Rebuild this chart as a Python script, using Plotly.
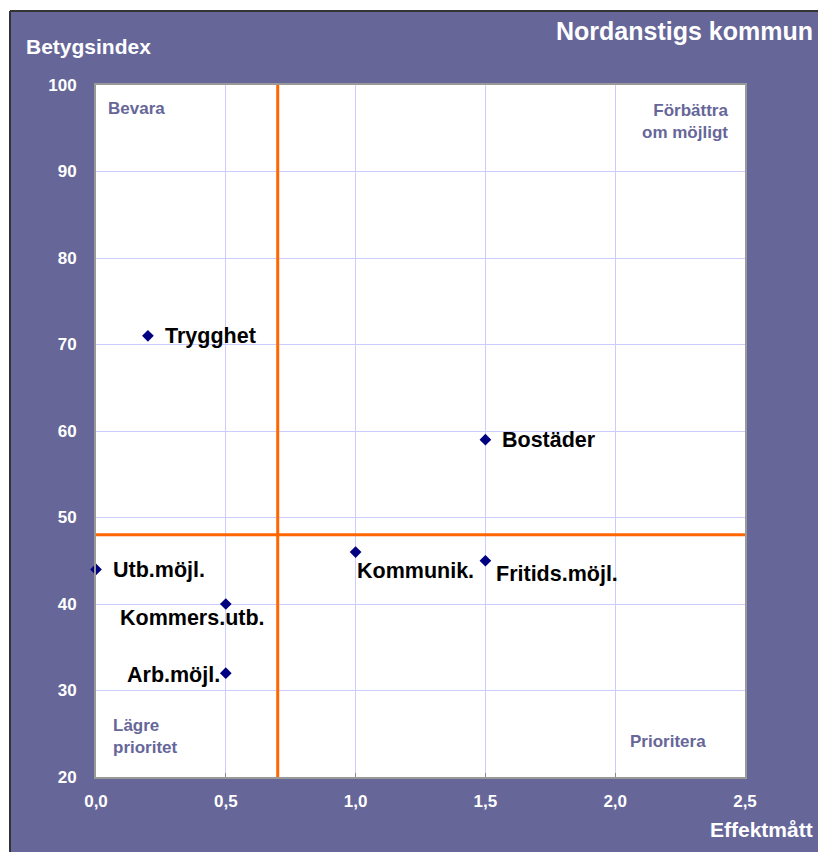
import plotly.graph_objects as go

# ---- data ----
labels = ["Trygghet", "Bostäder", "Utb.möjl.", "Kommers.utb.", "Arb.möjl.", "Kommunik.", "Fritids.möjl."]
effekt = [0.2, 1.5, 0.0, 0.5, 0.5, 1.0, 1.5]
betyg = [71, 59, 44, 40, 32, 46, 45]
x_threshold = 0.7
y_threshold = 48
x_ticks = [0.0, 0.5, 1.0, 1.5, 2.0, 2.5]
y_ticks = [20, 30, 40, 50, 60, 70, 80, 90, 100]

# ---- style ----
PURPLE = "#666699"
FONT = "Liberation Sans, Arial, sans-serif"
# label placement per point: (xanchor, yanchor, xshift, yshift)
label_style = {
    "Trygghet": ("left", "middle", 15, 0),
    "Bostäder": ("left", "middle", 15, 0),
    "Utb.möjl.": ("left", "middle", 15, -1),
    "Kommers.utb.": ("center", "middle", -33, -14),
    "Arb.möjl.": ("right", "middle", -4, -2),
    "Kommunik.": ("left", "middle", -1, -19),
    "Fritids.möjl.": ("left", "middle", 9, -13),
}

SW, SH = 818, 852
W, H = SW, SH
L, R, T, B = 96, 745, 85, 777
pw, ph = R - L, B - T


def px(xs):
    return (xs - L) / pw


def py(ys):
    return (B - ys) / ph


fig = go.Figure()
fig.add_trace(go.Scatter(
    x=effekt, y=betyg, mode="markers",
    marker=dict(symbol="diamond", size=9, color="#000080"),
    hoverinfo="skip", showlegend=False, cliponaxis=False,
))

annotations = []
for lab, xv, yv in zip(labels, effekt, betyg):
    xa, ya, xs, ys = label_style[lab]
    annotations.append(dict(
        x=xv, y=yv, xref="x", yref="y", text=lab, showarrow=False,
        xanchor=xa, yanchor=ya, xshift=xs, yshift=ys,
        font=dict(family=FONT, size=21.5, color="black", weight="bold"),
    ))


def q(text, x, y, xa, ya, align="left"):
    annotations.append(dict(
        x=x, y=y, xref="paper", yref="paper", text=text, showarrow=False,
        xanchor=xa, yanchor=ya, align=align,
        font=dict(family=FONT, size=17, color=PURPLE, weight="bold"),
    ))


q("Bevara", px(106), py(109), "left", "middle")
q("Förbättra<br>om möjligt", px(730), py(121), "right", "middle", "right")
q("Lägre<br>prioritet", px(111), py(736), "left", "middle")
q("Prioritera", px(628), py(741), "left", "middle")

annotations.append(dict(
    x=px(24), y=py(46), xref="paper", yref="paper", text="Betygsindex",
    showarrow=False, xanchor="left", yanchor="middle",
    font=dict(family=FONT, size=21, color="white", weight="bold")))
annotations.append(dict(
    x=px(815), y=py(31), xref="paper", yref="paper", text="Nordanstigs kommun",
    showarrow=False, xanchor="right", yanchor="middle",
    font=dict(family=FONT, size=25, color="white", weight="bold")))
annotations.append(dict(
    x=px(815), y=py(829), xref="paper", yref="paper", text="Effektmått",
    showarrow=False, xanchor="right", yanchor="middle",
    font=dict(family=FONT, size=21, color="white", weight="bold")))

shapes = [
    # white strips on top and left of the purple frame
    dict(type="rect", xref="paper", yref="paper", x0=px(0), x1=px(SW + 5), y0=py(11), y1=py(0),
         fillcolor="white", line=dict(width=0), layer="below"),
    dict(type="rect", xref="paper", yref="paper", x0=px(0), x1=px(10), y0=py(SH + 5), y1=py(0),
         fillcolor="white", line=dict(width=0), layer="below"),
    dict(type="line", xref="paper", yref="paper", x0=px(10), x1=px(SW + 5), y0=py(11), y1=py(11),
         line=dict(color="#333333", width=2), layer="below"),
    dict(type="line", xref="paper", yref="paper", x0=px(10), x1=px(10), y0=py(11), y1=py(SH + 5),
         line=dict(color="#333333", width=2), layer="below"),
    # threshold lines
    dict(type="line", xref="x", yref="paper", x0=x_threshold, x1=x_threshold, y0=0, y1=1,
         line=dict(color="#FF6600", width=3)),
    dict(type="line", xref="paper", yref="y", x0=0, x1=1, y0=y_threshold, y1=y_threshold,
         line=dict(color="#FF6600", width=3)),
]

fig.update_layout(
    width=W, height=H,
    margin=dict(l=L, r=W - R, t=T, b=H - B, pad=0),
    paper_bgcolor=PURPLE, plot_bgcolor="white",
    separators=", ",
    font=dict(family=FONT),
    annotations=annotations, shapes=shapes,
    showlegend=False,
)
fig.update_xaxes(
    range=[0, 2.5], tickvals=x_ticks, tickformat=".1f",
    showgrid=True, gridcolor="#CCCCFF", gridwidth=1, zeroline=False,
    showline=True, linecolor="#999999", linewidth=2, mirror=True,
    ticks="inside", ticklen=4, tickcolor="#888888",
    tickfont=dict(family=FONT, size=17, color="white", weight="bold"),
    ticklabelstandoff=8,
)
fig.update_yaxes(
    range=[20, 100], tickvals=y_ticks,
    showgrid=True, gridcolor="#CCCCFF", gridwidth=1, zeroline=False,
    showline=True, linecolor="#999999", linewidth=2, mirror=True,
    ticks="", tickfont=dict(family=FONT, size=17, color="white", weight="bold"),
    ticklabelstandoff=14,
)

fig.write_html(
    "out.html",
    config={"displayModeBar": False},
    post_script="document.body.style.margin='0';document.body.style.overflow='hidden';",
)
